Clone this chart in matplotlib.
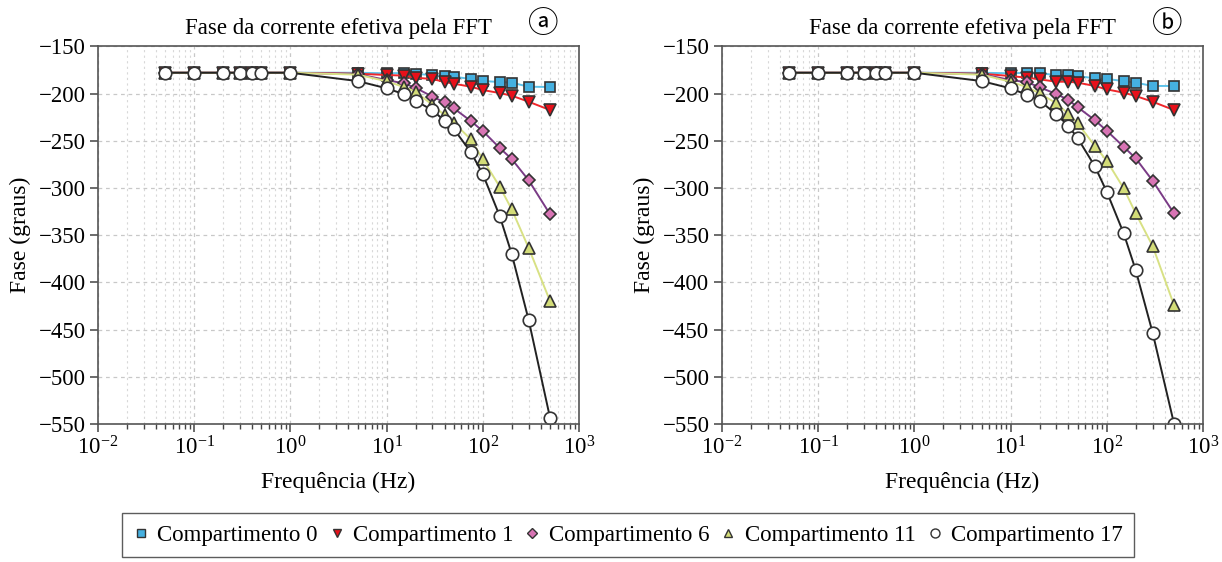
import numpy as np
import matplotlib
matplotlib.use('Agg')
import matplotlib.pyplot as plt
from matplotlib.lines import Line2D
from matplotlib.ticker import LogLocator, NullFormatter

plt.rcParams['font.family'] = ['Liberation Serif', 'DejaVu Sans']
plt.rcParams['mathtext.fontset'] = 'custom'
plt.rcParams['mathtext.rm'] = 'Liberation Serif'
plt.rcParams['axes.unicode_minus'] = True

freq = [0.05, 0.1, 0.2, 0.3, 0.4, 0.5, 1, 5, 10, 15, 20, 30, 40, 50,
        75, 100, 150, 200, 300, 500]
low = [-178] * 7

# panel a
a_c0 = low + [-178, -178.6, -178.3, -179.3, -180.4, -181.5, -182.2, -184.6,
              -186.8, -187.8, -188.5, -192.8, -193.1]
a_c1 = low + [-179, -180.4, -181, -183.3, -184.6, -187.8, -189.6, -192.8,
              -196.3, -199.5, -202.3, -208.7, -217.5]
a_c6 = low + [-179.5, -185.7, -189.2, -193.9, -203.4, -209.3, -215.7, -229.1,
              -239.7, -257.7, -269.4, -291.9, -327.9]
a_c11 = low + [-180, -187, -193, -198, -212.2, -222.8, -230.9, -248.5,
               -269.7, -298.7, -322.7, -363.6, -419.8]
a_c17 = low + [-186.8, -194.5, -200.5, -207.6, -217.8, -228.8, -237.6, -262,
               -285.3, -329.8, -370, -440, -543.4]

# panel b
b_c0 = low + [-178, -178.6, -178, -178.6, -180.4, -180.4, -181.5, -183.9,
              -184.6, -186.8, -188.5, -192, -192]
b_c1 = low + [-179, -181.5, -183.3, -185, -187.5, -187.5, -188.5, -192,
              -195.6, -199.1, -202.6, -208.7, -217.5]
b_c6 = low + [-179.5, -185.7, -188.1, -193.4, -200.5, -206.9, -214.6, -228.1,
              -239.4, -256.4, -268.6, -292.4, -326.9]
b_c11 = low + [-180, -187.5, -193.4, -199.8, -210.4, -221.7, -231.6, -255.3,
               -271.2, -300.4, -326.9, -361.5, -424]
b_c17 = low + [-186.8, -194.5, -201.6, -207.6, -222, -234.4, -247.5, -276.8,
               -304, -348.1, -387, -453.4, -549.5]

labels = ['Compartimento 0', 'Compartimento 1', 'Compartimento 6',
          'Compartimento 11', 'Compartimento 17']
styles = [
    dict(marker='s', color='#5ec3ea', mfc='#45b0e0', ms=7.5),
    dict(marker='v', color='#f0262a', mfc='#e8101a', ms=8.5),
    dict(marker='D', color='#7a3b86', mfc='#d874b4', ms=6.5),
    dict(marker='^', color='#d8e184', mfc='#d3dc78', ms=8.5),
    dict(marker='o', color='#222222', mfc='white', ms=9),
]

fig = plt.figure(figsize=(12.22, 5.62), dpi=100)
axa = fig.add_axes([0.0802, 0.2456, 0.3936, 0.672])
axb = fig.add_axes([0.5908, 0.2456, 0.3936, 0.672])

panels = [(axa, [a_c0, a_c1, a_c6, a_c11, a_c17], 'ⓐ'),
          (axb, [b_c0, b_c1, b_c6, b_c11, b_c17], 'ⓑ')]

for ax, series, tag in panels:
    for ys, st in zip(series, styles):
        ax.plot(freq, ys, lw=1.4, mec='#333333', mew=1.2, **st)
    ax.set_xscale('log')
    ax.set_xlim(1e-2, 1e3)
    ax.set_ylim(-550, -150)
    ax.set_yticks(np.arange(-550, -149, 50))
    ax.xaxis.set_major_locator(LogLocator(base=10, numticks=10))
    ax.xaxis.set_minor_locator(LogLocator(base=10, subs=np.arange(2, 10), numticks=20))
    ax.xaxis.set_minor_formatter(NullFormatter())
    ax.grid(True, which='major', ls=(0, (3, 3)), color='#c8c8c8', lw=0.9)
    ax.grid(True, which='minor', axis='x', ls=(0, (2, 3)), color='#d8d8d8', lw=0.8)
    ax.set_axisbelow(True)
    for sp in ax.spines.values():
        sp.set_color('#555555')
        sp.set_linewidth(1.2)
    ax.tick_params(axis='both', which='major', labelsize=16.5, length=6,
                   color='#444444', width=1.1, direction='out', pad=3)
    ax.tick_params(axis='x', which='minor', length=3.5, color='#444444', width=1)
    ax.set_title('Fase da corrente efetiva pela FFT', fontsize=16.5, pad=9)
    ax.text(0.925, 1.058, tag, transform=ax.transAxes, fontsize=22,
            ha='center', va='center', family=['Noto Sans CJK JP', 'DejaVu Sans'])
    ax.set_xlabel('Frequência (Hz)', fontsize=17, labelpad=9)
    ax.set_ylabel('Fase (graus)', fontsize=17, labelpad=5)

handles = [Line2D([], [], ls='none', mec='#333333', mew=1.0,
                  marker=st['marker'], mfc=st['mfc'], ms=st['ms'] * 0.72)
           for st in styles]
leg = fig.legend(handles, labels, loc='center', bbox_to_anchor=(0.514, 0.048),
                 ncol=5, fontsize=16.5, frameon=True, fancybox=False,
                 edgecolor='#333333', handlelength=0.6, handletextpad=0.4,
                 columnspacing=0.55, borderpad=0.5)
leg.get_frame().set_linewidth(1.0)

fig.savefig('out.png', dpi=100)
